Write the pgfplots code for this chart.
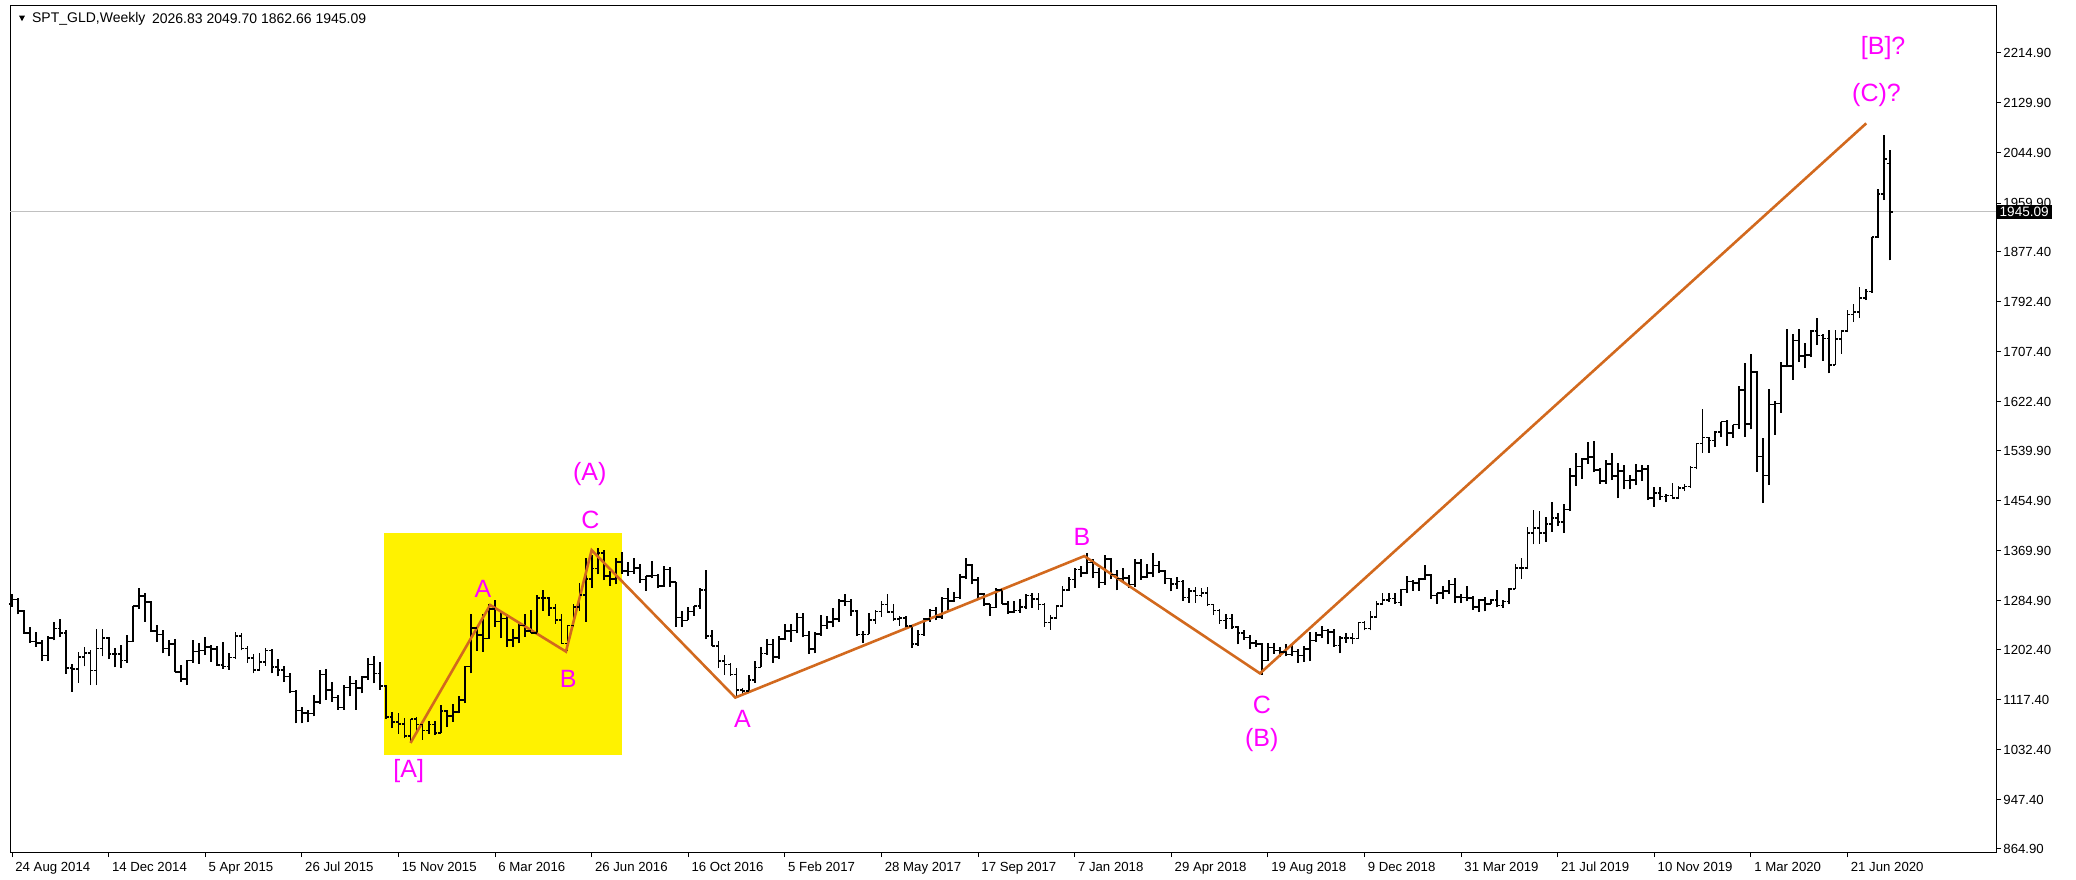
\documentclass[border=0pt]{standalone}
\usepackage{fontspec}
\setmainfont{Liberation Sans}
\usepackage{pgfplots}
\usepackage{pgfplotstable}
\pgfplotsset{compat=1.18}

\definecolor{wave}{RGB}{210,105,30}
\definecolor{boxy}{RGB}{255,242,0}
\definecolor{lbl}{RGB}{255,0,255}
\definecolor{bidline}{RGB}{192,192,192}

% open tick to the left, close tick to the right
\pgfdeclareplotmark{otick}{\pgfpathmoveto{\pgfqpoint{-\pgfplotmarksize}{0pt}}\pgfpathlineto{\pgfqpoint{0pt}{0pt}}\pgfusepathqstroke}
\pgfdeclareplotmark{ctick}{\pgfpathmoveto{\pgfqpoint{0pt}{0pt}}\pgfpathlineto{\pgfqpoint{\pgfplotmarksize}{0pt}}\pgfusepathqstroke}

% weekly bars, week 0 = 24 Aug 2014
\pgfplotstableread{
w o h l c
0 1280 1296 1275 1287
1 1287 1290 1262 1268
2 1268 1270 1229 1231
3 1231 1240 1214 1216
4 1216 1233 1207 1214
5 1214 1219 1183 1192
6 1192 1226 1183 1222
7 1222 1249 1218 1238
8 1238 1255 1224 1231
9 1231 1236 1161 1171
10 1171 1178 1131 1169
11 1169 1198 1146 1190
12 1190 1207 1174 1197
13 1197 1202 1142 1167
14 1167 1238 1142 1204
15 1204 1238 1191 1222
16 1222 1224 1186 1195
17 1195 1205 1172 1195
18 1195 1210 1171 1184
19 1184 1227 1180 1216
20 1216 1277 1215 1276
21 1276 1307 1272 1293
22 1293 1298 1250 1283
23 1283 1284 1232 1234
24 1234 1244 1216 1228
25 1228 1235 1196 1204
26 1204 1219 1191 1212
27 1212 1220 1164 1164
28 1164 1176 1147 1152
29 1152 1184 1142 1184
30 1184 1219 1180 1199
31 1199 1214 1178 1201
32 1201 1224 1193 1207
33 1207 1210 1182 1203
34 1203 1209 1175 1176
35 1176 1215 1170 1174
36 1174 1196 1168 1189
37 1189 1232 1186 1225
38 1225 1231 1201 1204
39 1204 1209 1180 1188
40 1188 1195 1162 1168
41 1168 1196 1168 1181
42 1181 1205 1175 1201
43 1201 1204 1162 1173
44 1173 1186 1157 1168
45 1168 1174 1147 1157
46 1157 1162 1128 1131
47 1131 1133 1077 1099
48 1099 1105 1077 1095
49 1095 1100 1079 1094
50 1094 1125 1089 1113
51 1113 1168 1110 1160
52 1160 1170 1117 1134
53 1134 1148 1114 1121
54 1121 1126 1100 1104
55 1104 1142 1100 1138
56 1138 1157 1123 1145
57 1145 1151 1100 1137
58 1137 1157 1128 1156
59 1156 1188 1151 1177
60 1177 1191 1145 1162
61 1162 1182 1134 1141
62 1141 1142 1085 1088
63 1088 1097 1069 1080
64 1080 1094 1060 1076
65 1076 1086 1052 1056
66 1056 1085 1046 1085
67 1085 1088 1061 1075
68 1075 1080 1049 1065
69 1065 1081 1060 1075
70 1075 1082 1058 1061
71 1061 1108 1061 1098
72 1098 1100 1071 1090
73 1090 1110 1080 1097
74 1097 1124 1094 1117
75 1117 1174 1111 1174
76 1174 1263 1162 1239
77 1239 1240 1200 1227
78 1227 1262 1199 1221
79 1221 1280 1221 1271
80 1271 1287 1241 1250
81 1250 1266 1222 1255
82 1255 1262 1207 1219
83 1219 1238 1207 1222
84 1222 1249 1213 1243
85 1243 1262 1224 1234
86 1234 1270 1230 1231
87 1231 1295 1229 1290
88 1290 1303 1268 1290
89 1290 1292 1260 1273
90 1273 1280 1246 1253
91 1253 1262 1212 1213
92 1213 1243 1200 1243
93 1243 1280 1240 1275
94 1275 1315 1268 1295
95 1295 1358 1250 1322
96 1322 1362 1307 1340
97 1340 1375 1330 1366
98 1366 1372 1320 1327
99 1327 1336 1311 1322
100 1322 1357 1313 1351
101 1351 1368 1331 1336
102 1336 1351 1327 1335
103 1335 1358 1331 1341
104 1341 1347 1316 1321
105 1321 1328 1302 1327
106 1327 1352 1323 1328
107 1328 1331 1306 1310
108 1310 1344 1309 1338
109 1338 1342 1309 1317
110 1317 1317 1241 1257
111 1257 1268 1241 1252
112 1252 1274 1252 1267
113 1267 1277 1260 1276
114 1276 1307 1272 1303
115 1303 1338 1220 1225
116 1225 1235 1208 1208
117 1208 1217 1171 1183
118 1183 1194 1160 1177
119 1177 1180 1158 1160
120 1160 1171 1123 1134
121 1134 1138 1124 1132
122 1132 1160 1128 1151
123 1151 1183 1146 1172
124 1172 1207 1172 1196
125 1196 1220 1193 1211
126 1211 1220 1180 1190
127 1190 1226 1186 1220
128 1220 1245 1219 1234
129 1234 1245 1216 1235
130 1235 1264 1230 1257
131 1257 1264 1223 1226
132 1226 1234 1195 1203
133 1203 1232 1196 1229
134 1229 1261 1226 1243
135 1243 1259 1237 1249
136 1249 1273 1240 1254
137 1254 1289 1249 1285
138 1285 1296 1277 1284
139 1284 1288 1260 1268
140 1268 1269 1226 1228
141 1228 1234 1214 1228
142 1228 1264 1228 1253
143 1253 1270 1246 1267
144 1267 1284 1258 1279
145 1279 1296 1265 1266
146 1266 1280 1251 1254
147 1254 1260 1243 1256
148 1256 1260 1238 1242
149 1242 1243 1205 1212
150 1212 1236 1208 1228
151 1228 1256 1226 1254
152 1254 1272 1250 1269
153 1269 1274 1252 1258
154 1258 1292 1255 1289
155 1289 1306 1268 1285
156 1285 1300 1283 1291
157 1291 1330 1289 1325
158 1325 1357 1322 1346
159 1346 1348 1313 1320
160 1320 1326 1287 1297
161 1297 1299 1276 1280
162 1280 1280 1260 1274
163 1274 1306 1273 1303
164 1303 1306 1280 1280
165 1280 1284 1263 1266
166 1266 1284 1264 1269
167 1269 1288 1265 1275
168 1275 1297 1271 1294
169 1294 1298 1273 1288
170 1288 1299 1270 1279
171 1279 1281 1241 1248
172 1248 1261 1236 1256
173 1256 1278 1254 1276
174 1276 1310 1274 1303
175 1303 1326 1302 1321
176 1321 1340 1307 1338
177 1338 1344 1325 1332
178 1332 1366 1330 1350
179 1350 1356 1323 1333
180 1333 1341 1307 1316
181 1316 1362 1312 1356
182 1356 1357 1322 1330
183 1330 1338 1303 1323
184 1323 1341 1315 1324
185 1324 1329 1307 1313
186 1313 1356 1309 1349
187 1349 1356 1321 1325
188 1325 1347 1323 1332
189 1332 1366 1325 1345
190 1345 1353 1332 1336
191 1336 1338 1314 1323
192 1323 1323 1301 1314
193 1314 1326 1305 1318
194 1318 1321 1285 1291
195 1291 1307 1282 1302
196 1302 1308 1282 1294
197 1294 1306 1291 1298
198 1298 1309 1276 1279
199 1279 1280 1261 1269
200 1269 1272 1246 1252
201 1252 1262 1238 1255
202 1255 1263 1237 1241
203 1241 1243 1211 1231
204 1231 1236 1219 1223
205 1223 1227 1204 1214
206 1214 1219 1207 1212
207 1212 1214 1160 1184
208 1184 1214 1183 1206
209 1206 1214 1195 1201
210 1201 1207 1190 1198
211 1198 1212 1191 1194
212 1194 1211 1191 1199
213 1199 1204 1180 1192
214 1192 1208 1182 1203
215 1203 1233 1183 1218
216 1218 1233 1215 1227
217 1227 1243 1222 1235
218 1235 1237 1211 1232
219 1232 1237 1207 1209
220 1209 1225 1196 1222
221 1222 1230 1214 1222
222 1222 1231 1211 1221
223 1221 1250 1221 1248
224 1248 1251 1235 1238
225 1238 1268 1235 1258
226 1258 1284 1257 1280
227 1280 1298 1278 1286
228 1286 1298 1283 1289
229 1289 1298 1280 1282
230 1282 1305 1277 1304
231 1304 1327 1298 1318
232 1318 1320 1302 1315
233 1315 1323 1302 1322
234 1322 1346 1321 1329
235 1329 1331 1289 1294
236 1294 1299 1280 1298
237 1298 1311 1289 1302
238 1302 1320 1297 1313
239 1313 1324 1281 1292
240 1292 1297 1281 1291
241 1291 1310 1284 1290
242 1290 1294 1270 1275
243 1275 1288 1266 1286
244 1286 1292 1267 1280
245 1280 1288 1279 1286
246 1286 1303 1274 1277
247 1277 1286 1273 1284
248 1284 1306 1279 1305
249 1305 1348 1305 1341
250 1341 1358 1322 1341
251 1341 1411 1339 1400
252 1400 1439 1381 1409
253 1409 1437 1382 1400
254 1400 1427 1385 1415
255 1415 1453 1402 1426
256 1426 1434 1412 1419
257 1419 1449 1400 1440
258 1440 1510 1437 1497
259 1497 1535 1480 1513
260 1513 1527 1492 1526
261 1526 1555 1518 1529
262 1529 1557 1503 1507
263 1507 1510 1484 1488
264 1488 1524 1484 1517
265 1517 1535 1490 1497
266 1497 1519 1459 1505
267 1505 1516 1474 1489
268 1489 1499 1474 1490
269 1490 1518 1481 1505
270 1505 1516 1488 1509
271 1509 1516 1456 1459
272 1459 1478 1445 1468
273 1468 1479 1456 1462
274 1462 1466 1452 1464
275 1464 1485 1458 1460
276 1460 1480 1458 1476
277 1476 1484 1471 1479
278 1479 1514 1477 1511
279 1511 1552 1508 1552
280 1552 1611 1536 1562
281 1562 1563 1536 1557
282 1557 1574 1546 1571
283 1571 1589 1563 1589
284 1589 1592 1548 1570
285 1570 1584 1562 1584
286 1584 1649 1577 1643
287 1643 1689 1563 1585
288 1585 1703 1576 1673
289 1673 1675 1504 1530
290 1530 1561 1451 1498
291 1498 1644 1482 1618
292 1618 1624 1567 1620
293 1620 1690 1604 1683
294 1683 1747 1681 1683
295 1683 1738 1660 1727
296 1727 1747 1690 1700
297 1700 1723 1680 1702
298 1702 1744 1698 1743
299 1743 1765 1719 1735
300 1735 1738 1692 1730
301 1730 1745 1671 1685
302 1685 1744 1685 1729
303 1729 1745 1704 1743
304 1743 1779 1741 1771
305 1771 1789 1758 1775
306 1775 1818 1765 1799
307 1799 1814 1795 1810
308 1810 1902 1808 1902
309 1902 1984 1901 1975
310 1975 2075 1965 2035
311 2026.83 2049.70 1862.66 1945.09
}\ohlc

\begin{document}
\begin{tikzpicture}
\useasboundingbox (-5.25pt,-13.5pt) rectangle (1032.75pt,426pt);
\begin{axis}[
    scale only axis,
    width=992.75pt, height=423pt,
    xmin=-0.25, xmax=328.6,
    ymin=859, ymax=2294.1,
    clip=false,
    axis line style={black, line width=0.5pt},
    tick style={black, line width=0.5pt},
    tick align=outside,
    major tick length=2.5pt,
    xtick pos=bottom,
    ytick pos=right,
    xtick={0,16,...,304},
    xticklabels={24 Aug 2014,14 Dec 2014,5 Apr 2015,26 Jul 2015,15 Nov 2015,6 Mar 2016,26 Jun 2016,16 Oct 2016,5 Feb 2017,28 May 2017,17 Sep 2017,7 Jan 2018,29 Apr 2018,19 Aug 2018,9 Dec 2018,31 Mar 2019,21 Jul 2019,10 Nov 2019,1 Mar 2020,21 Jun 2020},
    ytick={864.9,947.4,1032.4,1117.4,1202.4,1284.9,1369.9,1454.9,1539.9,1622.4,1707.4,1792.4,1877.4,1959.9,2044.9,2129.9,2214.9},
    yticklabels={864.90,947.40,1032.40,1117.40,1202.40,1284.90,1369.90,1454.90,1539.90,1622.40,1707.40,1792.40,1877.40,1959.90,2044.90,2129.90,2214.90},
    ticklabel style={font=\fontsize{6.6}{7}\selectfont, inner sep=0pt},
    xticklabel style={anchor=north west, xshift=1.5pt, yshift=-2.5pt},
    yticklabel style={anchor=west, xshift=1pt},
    after end axis/.code={
      \node[fill=black, text=white, anchor=west, inner xsep=1.6pt, inner ysep=1pt,
            font=\fontsize{6.8}{7}\selectfont] at (axis cs:328.6,1945.09) {1945.09};
    },
]

% highlighted box
\addplot[fill=boxy, draw=none, mark=none] coordinates {
  (61.65,1023.6)(101.1,1023.6)(101.1,1399.6)(61.65,1399.6)
};

% bid line
\addplot[bidline, line width=0.5pt, mark=none] coordinates {(-0.25,1945.09)(328.6,1945.09)};

% high-low bars
\addplot[draw=none, mark=none,
    error bars/.cd, y dir=plus, y explicit, error mark=none,
    error bar style={draw=black, line width=0.9pt}]
  table[x=w, y=l, y error plus expr=\thisrow{h}-\thisrow{l}] {\ohlc};
% open and close ticks
\addplot[black, line width=0.8pt, only marks, mark=otick, mark size=1.4pt] table[x=w, y=o] {\ohlc};
\addplot[black, line width=0.8pt, only marks, mark=ctick, mark size=1.4pt] table[x=w, y=c] {\ohlc};

% wave count
\addplot[wave, line width=1.3pt, mark=none] coordinates {
  (66,1044)(79.2,1278)(91.75,1199)(96,1371)(119.8,1121)(177.6,1361)(206.7,1162)(307.1,2095)
};

\begin{scope}[every node/.style={text=lbl, font=\fontsize{12.5}{14}\selectfont, inner sep=0pt}]
\node at (axis cs:95.7,1500) {(A)};
\node at (axis cs:95.8,1423) {C};
\node at (axis cs:78,1305) {A};
\node at (axis cs:92.1,1152) {B};
\node at (axis cs:65.7,997) {[A]};
\node at (axis cs:121,1084) {A};
\node at (axis cs:177.2,1393) {B};
\node at (axis cs:207,1108) {C};
\node at (axis cs:207,1049) {(B)};
\node at (axis cs:308.8,2143) {(C)?};
\node at (axis cs:309.9,2222) {[B]?};
\end{scope}
\end{axis}

% chart header
\fill[black] (4.25pt,418.2pt) -- (7.25pt,418.2pt) -- (5.75pt,415.4pt) -- cycle;
\node[anchor=west, inner sep=0pt, font=\fontsize{7}{8}\selectfont] at (10.6pt,416.6pt) {SPT\_GLD,Weekly};
\node[anchor=west, inner sep=0pt, font=\fontsize{7}{8}\selectfont] at (70.6pt,416.6pt) {2026.83 2049.70 1862.66 1945.09};
\end{tikzpicture}
\end{document}
